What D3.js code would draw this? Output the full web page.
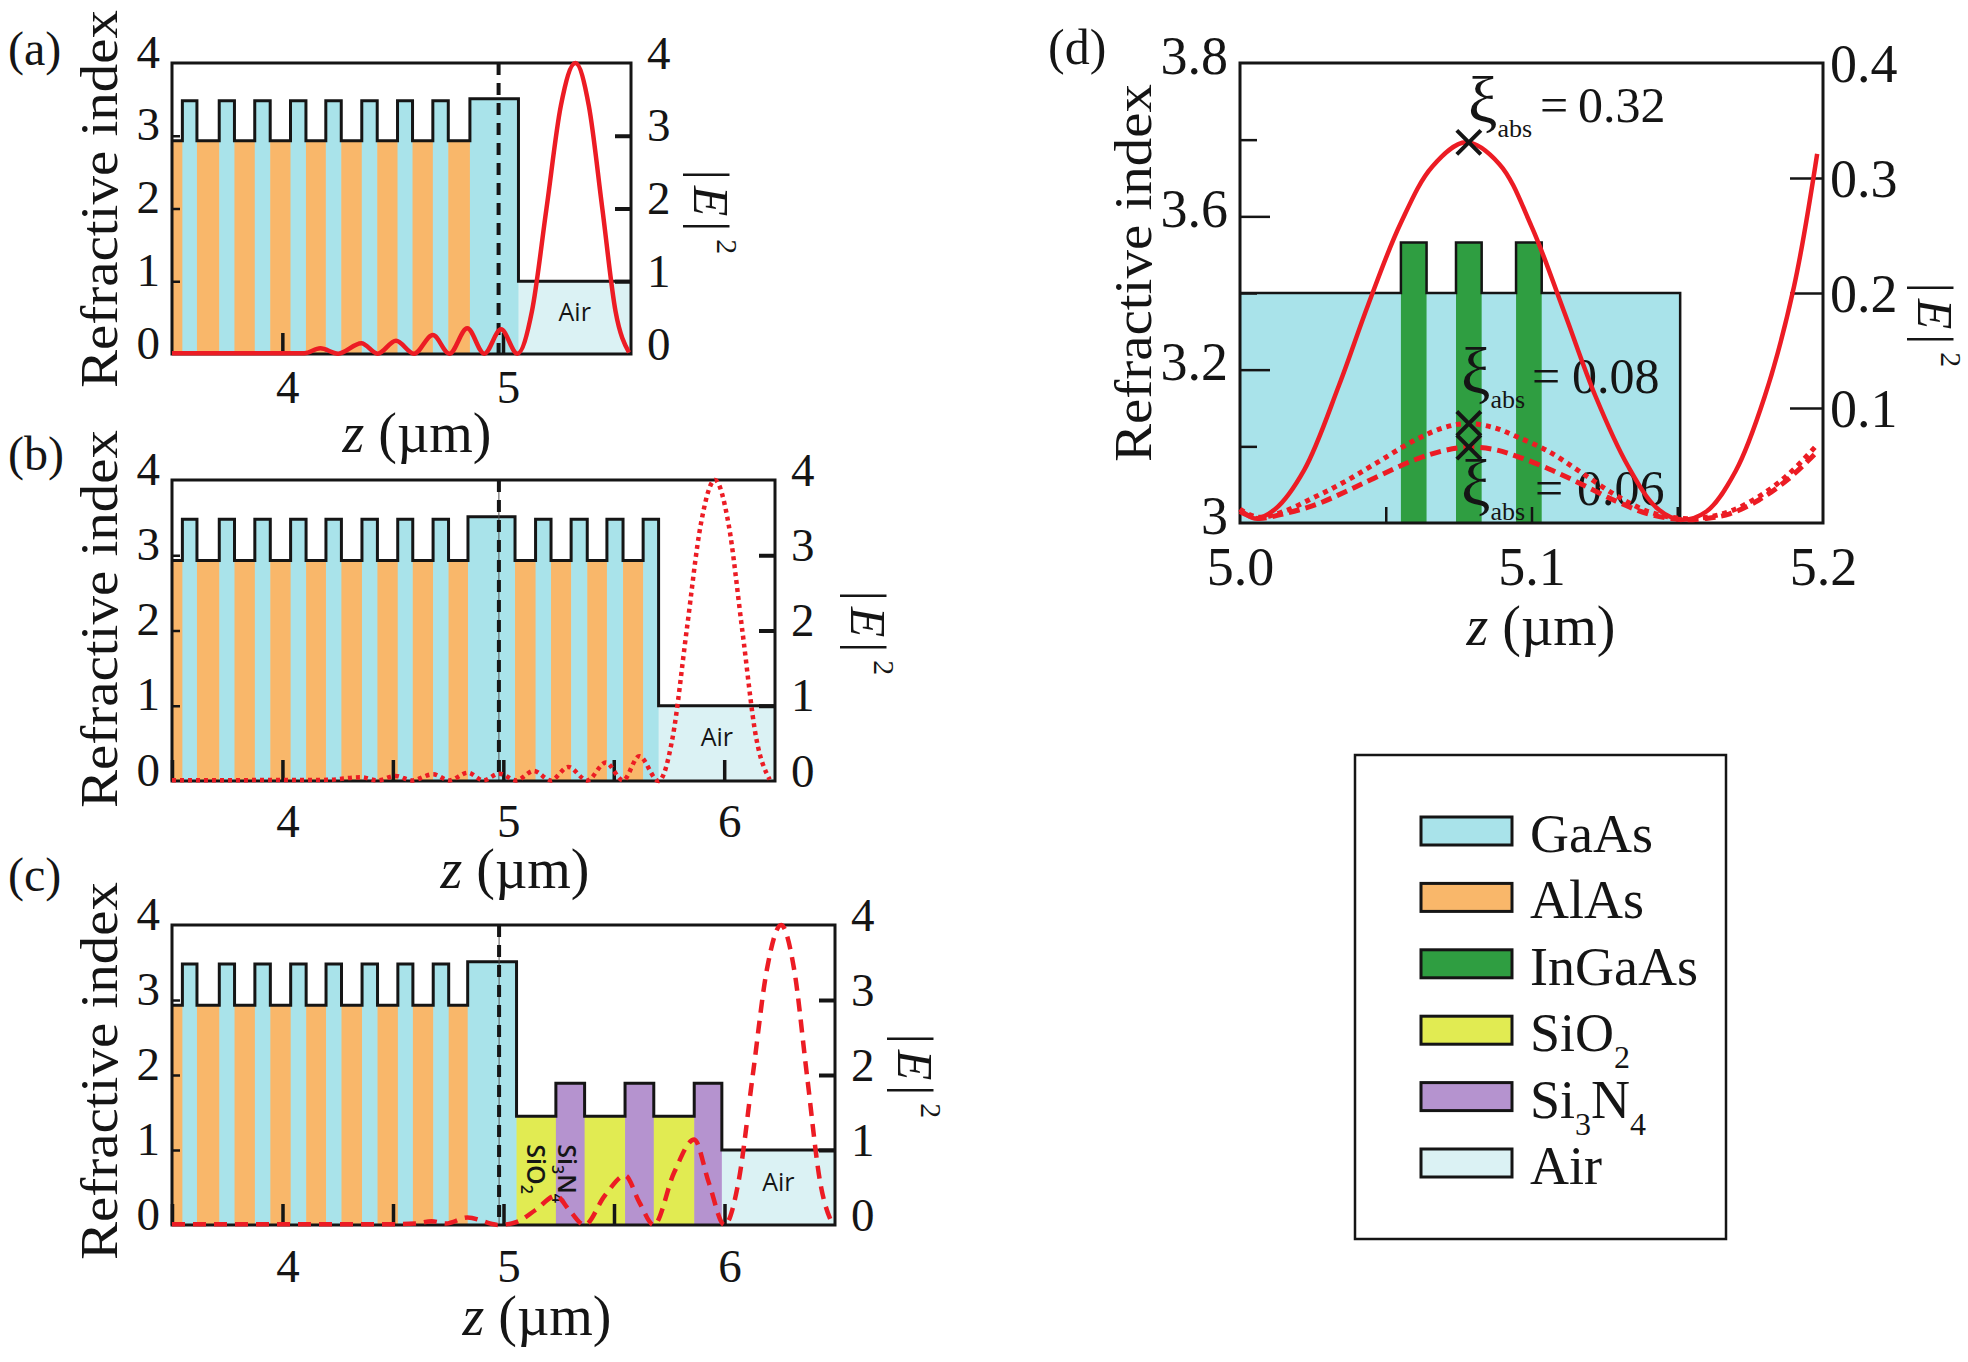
<!DOCTYPE html>
<html>
<head>
<meta charset="utf-8">
<title>Microcavity index profiles and field intensity</title>
<script src="https://cdn.jsdelivr.net/npm/d3@7/dist/d3.min.js"></script>
<style>body{margin:0;background:#fff}</style>
</head>
<body>
<script>
// ---------- values ----------
var nMat = {GaAs: 3.48, AlAs: 2.93, Cavity: 3.51, SiO2: 1.45, Si3N4: 1.89, Air: 1.0};
var nZoom = {GaAs: 3.4, InGaAs: 3.488};

// GaAs strips of the bottom mirror (z in um), AlAs fills the gaps
var dbrGaAs = [[3.547,3.613],[3.714,3.783],[3.875,3.945],[4.037,4.107],[4.197,4.267],[4.360,4.430],[4.522,4.590],[4.682,4.752]];
var cavityA = [4.850, 5.070], cavityB = [4.840, 5.053], cavityC = [4.838, 5.059];
var topGaAsB = [[5.146,5.216],[5.307,5.380],[5.469,5.542],[5.633,5.703]];
var dielC = [[5.059,5.237,"SiO2"],[5.237,5.367,"Si3N4"],[5.367,5.550,"SiO2"],[5.550,5.680,"Si3N4"],[5.680,5.863,"SiO2"],[5.863,5.988,"Si3N4"]];
var airA = [5.070, 5.58], airB = [5.703, 6.23], airC = [5.988, 6.5];
var dashZ = 4.98;

var fieldA = [[3.50,0.01],[4.10,0.01],[4.172,0.078],[4.253,0.005],[4.358,0.147],[4.432,0.005],[4.515,0.183],[4.597,0.005],[4.682,0.261],[4.757,0.005],[4.838,0.353],[4.915,0.005],[4.991,0.339],[5.065,0.005],[5.131,0.586],[5.197,2.0],[5.262,3.41],[5.328,4.0],[5.389,3.41],[5.45,2.0],[5.51,0.586],[5.571,0.02]];
var fieldB = [[3.50,0.01],[4.20,0.015],[4.357,0.05],[4.43,0.008],[4.513,0.067],[4.586,0.008],[4.682,0.09],[4.755,0.008],[4.839,0.11],[4.91,0.008],[4.982,0.098],[5.058,0.008],[5.138,0.134],[5.215,0.008],[5.294,0.187],[5.38,0.008],[5.464,0.245],[5.542,0.008],[5.615,0.33],[5.703,0.0],[5.767,0.586],[5.83,2.0],[5.894,3.41],[5.958,4.0],[6.02,3.41],[6.082,2.0],[6.144,0.586],[6.206,0.02]];
var fieldC = [[3.50,0.01],[4.45,0.01],[4.60,0.02],[4.675,0.05],[4.74,0.02],[4.837,0.10],[4.978,0.0],[5.06,0.04],[5.145,0.20],[5.237,0.39],[5.30,0.19],[5.367,0.0],[5.458,0.39],[5.55,0.66],[5.615,0.30],[5.68,0.0],[5.772,0.70],[5.863,1.14],[5.929,0.565],[6.0,0.0],[6.064,0.586],[6.128,2.0],[6.192,3.41],[6.256,4.0],[6.315,3.41],[6.373,2.0],[6.432,0.586],[6.49,0.0]];

// panel (d): zoom on the cavity
var layersD = [[5.0,5.0552,"GaAs"],[5.0552,5.0640,"InGaAs"],[5.0640,5.0741,"GaAs"],[5.0741,5.0829,"InGaAs"],[5.0829,5.0947,"GaAs"],[5.0947,5.1035,"InGaAs"],[5.1035,5.151,"GaAs"]];
var solidD  = [[5.000,0.012],[5.005,0.004],[5.012,0.012],[5.022,0.046],[5.034,0.120],[5.044,0.190],[5.055,0.260],[5.066,0.310],[5.0775,0.331],[5.089,0.312],[5.100,0.258],[5.111,0.185],[5.122,0.110],[5.133,0.050],[5.143,0.013],[5.151,0.003],[5.160,0.010],[5.170,0.045],[5.180,0.110],[5.190,0.205],[5.198,0.321]];
var dottedD = [[5.000,0.012],[5.006,0.005],[5.015,0.010],[5.026,0.023],[5.036,0.036],[5.046,0.051],[5.060,0.072],[5.070,0.083],[5.078,0.0865],[5.087,0.083],[5.095,0.075],[5.106,0.062],[5.117,0.044],[5.129,0.024],[5.140,0.010],[5.151,0.004],[5.160,0.005],[5.168,0.010],[5.178,0.023],[5.188,0.042],[5.198,0.068]];
var dashedD = [[5.000,0.010],[5.006,0.004],[5.015,0.008],[5.026,0.016],[5.036,0.027],[5.046,0.039],[5.060,0.055],[5.070,0.063],[5.078,0.066],[5.087,0.064],[5.095,0.058],[5.106,0.047],[5.117,0.034],[5.129,0.019],[5.140,0.008],[5.151,0.003],[5.160,0.004],[5.168,0.008],[5.178,0.020],[5.188,0.038],[5.198,0.062]];
var markZ = 5.0785;
var xiVals = ["0.32", "0.08", "0.06"];
var xiPeaks = [0.331, 0.0865, 0.066];

var yTicksD = [3, 3.1333, 3.2667, 3.4, 3.5333, 3.6667, 3.8];
var yLabelD = {3: "3", 3.2667: "3.2", 3.5333: "3.6", 3.8: "3.8"};
var y2TicksD = [0.1, 0.2, 0.3];
var y2LabelsD = [0.1, 0.2, 0.3, 0.4];
var xLabelsD = [5.0, 5.1, 5.2];
var xTicksD = [5.05, 5.1, 5.15];

var legendNames = ["GaAs", "AlAs", "InGaAs", "SiO2", "Si3N4", "Air"];

// ---------- styling ----------
var color = {GaAs: "#a9e3ea", Cavity: "#a9e3ea", AlAs: "#f9b76a", InGaAs: "#2f9e41",
             SiO2: "#e1eb52", Si3N4: "#b593cf", Air: "#dbf2f4"};
var red = "#ec1c24", ink = "#151515";
var serif = "'Liberation Serif', 'Times New Roman', serif";
var sans = "'Open Sans', 'Liberation Sans', sans-serif";

var svg = d3.select("body").append("svg")
            .attr("width", 1968).attr("height", 1362)
            .style("background", "#fff");

function stack(start, blocks) {
  var out = [], z = start;
  blocks.forEach(function(b) {
    if (b[0] > z + 1e-6) out.push([z, b[0], "AlAs"]);
    out.push(b);
    z = b[1];
  });
  return out;
}

function gaas(list) { return list.map(function(d) { return [d[0], d[1], "GaAs"]; }); }

var panels = [
  {tag: "(a)", x0: 172, x1: 631, y0: 63, y1: 354, dom: [3.5, 5.58],
   layers: stack(3.5, gaas(dbrGaAs).concat([[cavityA[0], cavityA[1], "Cavity"], [airA[0], airA[1], "Air"]])),
   ticks: [4, 5], labels: [4, 5], labOff: 49, field: fieldA, dash: null, thin: false,
   tagY: 65, riY: 199, eX: 694, eY: 212, xlX: 417, xlY: 452},
  {tag: "(b)", x0: 172, x1: 775, y0: 480, y1: 781, dom: [3.5, 6.23],
   layers: stack(3.5, gaas(dbrGaAs).concat([[cavityB[0], cavityB[1], "Cavity"]], gaas(topGaAsB), [[airB[0], airB[1], "Air"]])),
   ticks: [3.5, 4, 4.5, 5, 5.5, 6], labels: [4, 5, 6], labOff: 56, field: fieldB, dash: "4,4", thin: true,
   tagY: 470, riY: 619, eX: 851, eY: 633, xlX: 515, xlY: 888},
  {tag: "(c)", x0: 172, x1: 835, y0: 925, y1: 1225, dom: [3.5, 6.5],
   layers: stack(3.5, gaas(dbrGaAs).concat([[cavityC[0], cavityC[1], "Cavity"]], dielC, [[airC[0], airC[1], "Air"]])),
   ticks: [3.5, 4, 4.5, 5, 5.5, 6], labels: [4, 5, 6], labOff: 57, field: fieldC, dash: "13,8", thin: true,
   tagY: 891, riY: 1071, eX: 898, eY: 1076, xlX: 537, xlY: 1335}
];

function styleText(sel, size) {
  sel.attr("font-family", serif).attr("font-size", size).attr("fill", ink);
}

function rotatedIndexLabel(g, x, y) {
  g.append("text").attr("transform", "translate(" + x + "," + y + ") rotate(-90)")
    .attr("text-anchor", "middle").attr("textLength", 378).attr("lengthAdjust", "spacingAndGlyphs")
    .call(styleText, 52).text("Refractive index");
}

function e2Label(g, x, y) {
  var t = g.append("text").attr("transform", "translate(" + x + "," + y + ") rotate(90)")
    .attr("text-anchor", "middle").call(styleText, 50);
  t.append("tspan").text("|");
  t.append("tspan").attr("dx", 6).attr("font-style", "italic").text("E");
  t.append("tspan").attr("dx", 5).text("|");
  t.append("tspan").attr("dx", 8).attr("dy", -23).attr("font-size", 30).text("2");
}

function zLabel(g, x, y) {
  var t = g.append("text").attr("x", x).attr("y", y).attr("text-anchor", "middle").call(styleText, 56);
  t.append("tspan").attr("font-style", "italic").text("z");
  t.append("tspan").text(" (\u00b5m)");
}

panels.forEach(function(p) {
  var x = d3.scaleLinear().domain(p.dom).range([p.x0, p.x1]);
  var y = d3.scaleLinear().domain([0, 4]).range([p.y1, p.y0]);
  var g = svg.append("g");

  // layer fills
  g.selectAll("rect.layer").data(p.layers).join("rect").attr("class", "layer")
    .attr("x", function(d) { return x(d[0]); })
    .attr("width", function(d) { return x(d[1]) - x(d[0]) + 0.6; })
    .attr("y", function(d) { return y(nMat[d[2]]); })
    .attr("height", function(d) { return y(0) - y(nMat[d[2]]); })
    .attr("fill", function(d) { return color[d[2]]; });

  // index profile outline
  var last = p.layers[p.layers.length - 1];
  var prof = p.layers.map(function(d) { return [d[0], nMat[d[2]]]; }).concat([[last[1], nMat[last[2]]]]);
  g.append("path").datum(prof)
    .attr("d", d3.line().x(function(d) { return x(d[0]); }).y(function(d) { return y(d[1]); }).curve(d3.curveStepAfter))
    .attr("fill", "none").attr("stroke", ink).attr("stroke-width", 3);

  // Air label
  g.append("text").attr("x", x((last[0] + last[1]) / 2)).attr("y", y(0.5) + 3)
    .attr("text-anchor", "middle").attr("font-family", sans).attr("font-size", 25).attr("fill", ink).text("Air");

  if (p.tag === "(c)") {
    var s1 = dielC[0], s2 = dielC[1];
    var t1 = g.append("text").attr("transform", "translate(" + (x(s1[0]) + 10) + "," + (y(1.45) + 28) + ") rotate(90)")
      .attr("font-family", sans).attr("font-size", 25).attr("font-weight", 600).attr("fill", ink);
    t1.append("tspan").text("SiO");
    t1.append("tspan").attr("dy", 6).attr("font-size", 16).text("2");
    var t2 = g.append("text").attr("transform", "translate(" + (x(s2[0]) + 2) + "," + (y(1.45) + 28) + ") rotate(90)")
      .attr("font-family", sans).attr("font-size", 25).attr("font-weight", 600).attr("fill", ink);
    t2.append("tspan").text("Si");
    t2.append("tspan").attr("dy", 6).attr("font-size", 16).text("3");
    t2.append("tspan").attr("dy", -6).text("N");
    t2.append("tspan").attr("dy", 6).attr("font-size", 16).text("4");
  }

  // dashed marker line
  if (p.thin) {
    g.append("line").attr("x1", x(dashZ)).attr("x2", x(dashZ)).attr("y1", p.y0).attr("y2", p.y1)
      .attr("stroke", "#555").attr("stroke-width", 1);
  }
  g.append("line").attr("x1", x(dashZ)).attr("x2", x(dashZ)).attr("y1", p.y0).attr("y2", p.y1)
    .attr("stroke", ink).attr("stroke-width", 4).attr("stroke-dasharray", "12,8");

  // frame
  g.append("rect").attr("x", p.x0).attr("y", p.y0).attr("width", p.x1 - p.x0).attr("height", p.y1 - p.y0)
    .attr("fill", "none").attr("stroke", ink).attr("stroke-width", 3);

  // axes
  g.append("g").attr("transform", "translate(0," + p.y1 + ")")
    .call(d3.axisBottom(x).tickValues(p.ticks).tickSize(-21).tickFormat(""))
    .call(function(a) { a.select(".domain").remove(); a.selectAll("line").attr("stroke", ink).attr("stroke-width", 3.5); });
  g.append("g").attr("transform", "translate(0," + p.y1 + ")")
    .call(d3.axisBottom(x).tickValues(p.labels).tickSize(0).tickFormat(d3.format("d")))
    .call(function(a) { a.select(".domain").remove(); a.selectAll("text").attr("y", p.labOff).attr("dy", 0).attr("dx", 5).call(styleText, 47); });

  g.append("g").attr("transform", "translate(" + p.x0 + ",0)")
    .call(d3.axisLeft(y).tickValues([1, 2, 3]).tickSize(-8).tickFormat(""))
    .call(function(a) { a.select(".domain").remove(); a.selectAll("line").attr("stroke", ink).attr("stroke-width", 2.5); });
  g.append("g").attr("transform", "translate(" + p.x0 + ",0)")
    .call(d3.axisLeft(y).tickValues([0, 1, 2, 3, 4]).tickSize(0).tickPadding(12).tickFormat(d3.format("d")))
    .call(function(a) { a.select(".domain").remove(); a.selectAll("text").attr("dy", 0).attr("y", 4).call(styleText, 47); });

  g.append("g").attr("transform", "translate(" + p.x1 + ",0)")
    .call(d3.axisRight(y).tickValues([1, 2, 3]).tickSize(-16).tickFormat(""))
    .call(function(a) { a.select(".domain").remove(); a.selectAll("line").attr("stroke", ink).attr("stroke-width", 4); });
  g.append("g").attr("transform", "translate(" + p.x1 + ",0)")
    .call(d3.axisRight(y).tickValues([0, 1, 2, 3, 4]).tickSize(0).tickPadding(16).tickFormat(d3.format("d")))
    .call(function(a) { a.select(".domain").remove(); a.selectAll("text").attr("dy", 0).attr("y", 5).call(styleText, 47); });

  // field intensity
  var fp = g.append("path").datum(p.field)
    .attr("d", d3.line().x(function(d) { return x(d[0]); }).y(function(d) { return y(d[1]); }).curve(d3.curveMonotoneX))
    .attr("fill", "none").attr("stroke", red).attr("stroke-width", 4.5);
  if (p.dash) fp.attr("stroke-dasharray", p.dash);

  // labels
  g.append("text").attr("x", 8).attr("y", p.tagY).call(styleText, 48).text(p.tag);
  rotatedIndexLabel(g, 117, p.riY);
  e2Label(g, p.eX, p.eY);
  zLabel(g, p.xlX, p.xlY);
});

// ---------- panel (d) ----------
(function() {
  var x0 = 1240, x1 = 1823, y0 = 63, y1 = 523;
  var x = d3.scaleLinear().domain([5.0, 5.2]).range([x0, x1]);
  var y = d3.scaleLinear().domain([3, 3.8]).range([y1, y0]);
  var y2 = d3.scaleLinear().domain([0, 0.4]).range([y1, y0]);
  var g = svg.append("g");

  g.selectAll("rect.layer").data(layersD).join("rect").attr("class", "layer")
    .attr("x", function(d) { return x(d[0]); })
    .attr("width", function(d) { return x(d[1]) - x(d[0]) + 0.6; })
    .attr("y", function(d) { return y(nZoom[d[2]]); })
    .attr("height", function(d) { return y(3) - y(nZoom[d[2]]); })
    .attr("fill", function(d) { return color[d[2]]; });

  var last = layersD[layersD.length - 1];
  var prof = layersD.map(function(d) { return [d[0], nZoom[d[2]]]; }).concat([[last[1], 3]]);
  g.append("path").datum(prof)
    .attr("d", d3.line().x(function(d) { return x(d[0]); }).y(function(d) { return y(d[1]); }).curve(d3.curveStepAfter))
    .attr("fill", "none").attr("stroke", ink).attr("stroke-width", 2.5);

  g.append("rect").attr("x", x0).attr("y", y0).attr("width", x1 - x0).attr("height", y1 - y0)
    .attr("fill", "none").attr("stroke", ink).attr("stroke-width", 3);

  // left axis: long ticks where labelled, short between
  var major = yTicksD.filter(function(v) { return yLabelD[v] !== undefined && v > 3 && v < 3.8; });
  var minor = yTicksD.filter(function(v) { return yLabelD[v] === undefined; });
  g.append("g").attr("transform", "translate(" + x0 + ",0)")
    .call(d3.axisLeft(y).tickValues(major).tickSize(-30).tickFormat(""))
    .call(function(a) { a.select(".domain").remove(); a.selectAll("line").attr("stroke", ink).attr("stroke-width", 2.5); });
  g.append("g").attr("transform", "translate(" + x0 + ",0)")
    .call(d3.axisLeft(y).tickValues(minor).tickSize(-17).tickFormat(""))
    .call(function(a) { a.select(".domain").remove(); a.selectAll("line").attr("stroke", ink).attr("stroke-width", 2.5); });
  g.append("g").attr("transform", "translate(" + x0 + ",0)")
    .call(d3.axisLeft(y).tickValues(Object.keys(yLabelD).map(Number)).tickSize(0).tickPadding(12)
           .tickFormat(function(v) { return yLabelD[v]; }))
    .call(function(a) { a.select(".domain").remove(); a.selectAll("text").attr("dy", 0).attr("y", 10).call(styleText, 54); });

  g.append("g").attr("transform", "translate(" + x1 + ",0)")
    .call(d3.axisRight(y2).tickValues(y2TicksD).tickSize(-33).tickFormat(""))
    .call(function(a) { a.select(".domain").remove(); a.selectAll("line").attr("stroke", ink).attr("stroke-width", 2.5); });
  g.append("g").attr("transform", "translate(" + x1 + ",0)")
    .call(d3.axisRight(y2).tickValues(y2LabelsD).tickSize(0).tickPadding(7).tickFormat(d3.format(".1f")))
    .call(function(a) { a.select(".domain").remove(); a.selectAll("text").attr("dy", 0).attr("y", 18).call(styleText, 54); });

  g.append("g").attr("transform", "translate(0," + y1 + ")")
    .call(d3.axisBottom(x).tickValues(xTicksD).tickSize(-16).tickFormat(""))
    .call(function(a) { a.select(".domain").remove(); a.selectAll("line").attr("stroke", ink).attr("stroke-width", 2.5); });
  g.append("g").attr("transform", "translate(0," + y1 + ")")
    .call(d3.axisBottom(x).tickValues(xLabelsD).tickSize(0).tickFormat(d3.format(".1f")))
    .call(function(a) { a.select(".domain").remove(); a.selectAll("text").attr("y", 62).attr("dy", 0).call(styleText, 54); });

  // xi annotations (drawn beneath the curves)
  var xiPos = [[1468, 122, 1540, 1578], [1461, 393, 1532, 1572], [1461, 505, 1535, 1577]];
  xiPos.forEach(function(q, i) {
    var t = g.append("text").attr("x", q[0]).attr("y", q[1]).call(styleText, 50);
    t.append("tspan").attr("font-size", 66).text("\u03be");
    t.append("tspan").attr("dy", 15).attr("font-size", 26).text("abs");
    t.append("tspan").attr("x", q[2]).attr("dy", -15).text("=");
    t.append("tspan").attr("x", q[3]).text(xiVals[i]);
  });

  var line = d3.line().x(function(d) { return x(d[0]); }).y(function(d) { return y2(d[1]); }).curve(d3.curveCatmullRom.alpha(0.5));
  g.append("path").datum(dashedD).attr("d", line).attr("fill", "none").attr("stroke", red)
    .attr("stroke-width", 5).attr("stroke-dasharray", "11,6");
  g.append("path").datum(dottedD).attr("d", line).attr("fill", "none").attr("stroke", red)
    .attr("stroke-width", 5).attr("stroke-dasharray", "5,5");
  g.append("path").datum(solidD).attr("d", line).attr("fill", "none").attr("stroke", red)
    .attr("stroke-width", 4.5);

  // crosses at the central well
  var cross = d3.symbol().type(d3.symbolX).size(380);
  g.selectAll("path.mark").data(xiPeaks).join("path").attr("class", "mark")
    .attr("transform", function(v) { return "translate(" + x(markZ) + "," + y2(v) + ")"; })
    .attr("d", cross).attr("fill", "none").attr("stroke", ink).attr("stroke-width", 4);

  g.append("text").attr("x", 1048).attr("y", 64).call(styleText, 50).text("(d)");
  rotatedIndexLabel(g, 1151, 273);
  e2Label(g, 1918, 325);
  zLabel(g, 1541, 645);
})();

// ---------- legend ----------
(function() {
  var g = svg.append("g");
  g.append("rect").attr("x", 1355).attr("y", 755).attr("width", 371).attr("height", 484)
    .attr("fill", "#fff").attr("stroke", ink).attr("stroke-width", 2.5);
  var rowY = d3.scalePoint().domain(legendNames).range([831, 1163]);
  var rows = g.selectAll("g.row").data(legendNames).join("g").attr("class", "row")
    .attr("transform", function(d) { return "translate(0," + rowY(d) + ")"; });
  rows.append("rect").attr("x", 1421).attr("y", -14).attr("width", 91).attr("height", 28)
    .attr("fill", function(d) { return color[d]; }).attr("stroke", ink).attr("stroke-width", 3);
  rows.each(function(d) {
    var t = d3.select(this).append("text").attr("x", 1530).attr("y", 21).call(styleText, 54);
    if (d === "SiO2") {
      t.append("tspan").text("SiO");
      t.append("tspan").attr("dy", 17).attr("font-size", 32).text("2");
    } else if (d === "Si3N4") {
      t.append("tspan").text("Si");
      t.append("tspan").attr("dy", 17).attr("font-size", 32).text("3");
      t.append("tspan").attr("dy", -17).text("N");
      t.append("tspan").attr("dy", 17).attr("font-size", 32).text("4");
    } else {
      t.text(d);
    }
  });
})();
</script>
</body>
</html>
